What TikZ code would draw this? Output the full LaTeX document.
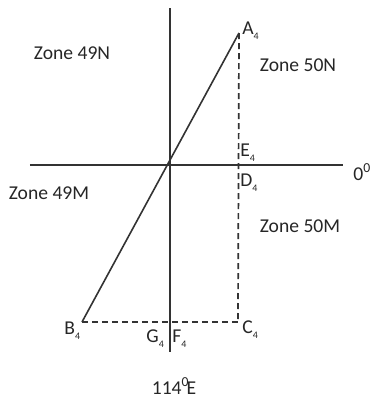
\documentclass[tikz,border=0pt]{standalone}
\usepackage{fontspec}
\setmainfont{Carlito}
\newcommand{\sbf}[1]{\raisebox{-2.5pt}{\fontsize{5}{6}\selectfont #1}}
\begin{document}
\begin{tikzpicture}[x=0.5pt,y=-0.5pt,
  axis/.style={line width=0.8pt, draw=black!80},
  dline/.style={line width=0.85pt, draw=black!80, dash pattern=on 3pt off 2pt},
  lbl/.style={font=\fontsize{9.8}{11}\selectfont, inner sep=0pt, text=black!85},
  pt/.style={lbl, anchor=west}]
\useasboundingbox (0,0) rectangle (370,398);
% points
\coordinate (top) at (170,8);
\coordinate (bot) at (170,352);
\coordinate (left) at (30,165);
\coordinate (right) at (343,165);
\coordinate (A) at (239,33);
\coordinate (B) at (82,322);
\coordinate (C) at (238,322);
% axes
\draw[axis] (top) -- (bot);
\draw[axis] (left) -- (right);
% lines
\draw[axis] (A) -- (B);
\draw[dline] (A) -- (C);
\draw[dline] (B) -- (C);
% labels
\node[pt] (lA) at (242,31) {A\sbf{4}};
\node[pt] (lE) at (240,153) {E\sbf{4}};
\node[pt] (lD) at (240,183) {D\sbf{4}};
\node[pt] (lB) at (64,331) {B\sbf{4}};
\node[pt] (lG) at (146,339) {G\sbf{4}};
\node[pt] (lF) at (172,339) {F\sbf{4}};
\node[pt] (lC) at (242,330) {C\sbf{4}};
\node[pt] (l0) at (353,172) {0\textsuperscript{0}};
\node[lbl] (z49N) at (72,53) {Zone 49N};
\node[lbl] (z50N) at (298,65) {Zone 50N};
\node[lbl] (z49M) at (49,193) {Zone 49M};
\node[lbl] (z50M) at (300,226) {Zone 50M};
\node[lbl] (lon) at (174,386) {114\textsuperscript{0}\kern-1.5ptE};
\end{tikzpicture}
\end{document}
